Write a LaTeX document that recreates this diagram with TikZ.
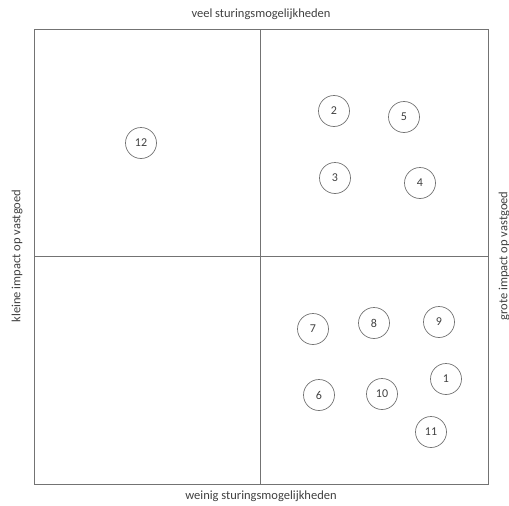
\documentclass[tikz,border=0pt]{standalone}
\usepackage{fontspec}
\setmainfont{Carlito}
\begin{document}
\begin{tikzpicture}[x=1pt,y=-1pt,
  frame/.style={draw=black!55, line width=0.8pt},
  num/.style={circle, draw=black!55, line width=0.7pt, minimum size=31pt, inner sep=0pt, font=\fontsize{12}{14}\selectfont, text=black!75},
  lab/.style={font=\fontsize{12.5}{14}\selectfont, text=black!75, inner sep=0pt}]
\useasboundingbox (0,0) rectangle (509,506);
\begin{scope}
\clip (0,0) rectangle (509,506);
\draw[frame] (34,29) rectangle (488,484);
\draw[frame] (260,29) -- (260,484);
\draw[frame] (34,256) -- (488,256);
\node[lab] (top) at (261,14) {veel sturingsmogelijkheden};
\node[lab] (bot) at (261,496) {weinig sturingsmogelijkheden};
\node[lab, rotate=90] (left) at (17,256) {kleine impact op vastgoed};
\node[lab, rotate=90] (right) at (504,256) {grote impact op vastgoed};
\node[num] (n12) at (141,143) {12};
\node[num] (n2) at (334,111) {2};
\node[num] (n5) at (404,117) {5};
\node[num] (n3) at (335,178) {3};
\node[num] (n4) at (420,183) {4};
\node[num] (n7) at (313,329) {7};
\node[num] (n8) at (374,323) {8};
\node[num] (n9) at (439,322) {9};
\node[num] (n1) at (446,379) {1};
\node[num] (n6) at (319,395) {6};
\node[num] (n10) at (382,394) {10};
\node[num] (n11) at (431,432) {11};
\end{scope}
\end{tikzpicture}
\end{document}
